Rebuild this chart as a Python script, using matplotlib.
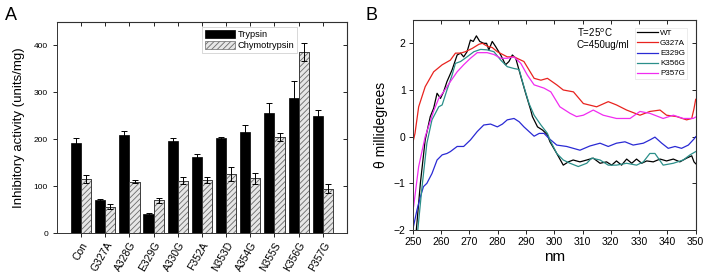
import matplotlib
matplotlib.use("Agg")
import matplotlib.pyplot as plt
import numpy as np

plt.rcParams['font.family'] = ['Liberation Sans', 'DejaVu Sans']

# ---------------- Panel A data ----------------
mutants = ["Con", "G327A", "A328G", "E329G", "A330G", "F352A", "N353D",
           "A354G", "N355S", "K356G", "P357G"]
trypsin = [192, 70, 210, 41, 196, 163, 202, 215, 255, 287, 250]
trypsin_err = [10, 3, 8, 2, 7, 5, 3, 15, 22, 36, 12]
chymo = [116, 57, 110, 70, 112, 113, 127, 117, 205, 386, 95]
chymo_err = [9, 6, 3, 6, 8, 7, 15, 12, 9, 19, 10]
yticksA = [0, 100, 200, 300, 400]

# ---------------- Panel B data ----------------
wt_x = [251.2, 252.7, 254.4, 256.2, 257.4, 258.6, 259.8, 260.9, 262.1, 263.9, 265.7, 266.9,
        268.0, 269.2, 270.4, 271.4, 272.5, 273.7, 275.1, 276.1, 276.9, 278.1, 279.3, 281.1,
        282.8, 284.0, 285.2, 286.4, 288.2, 289.9, 291.7, 292.3, 294.1, 295.9, 297.6, 298.5,
        300.9, 303.2, 305.0, 306.7, 309.1, 311.5, 313.8, 316.2, 318.5, 320.3, 322.0, 323.8,
        325.6, 327.4, 329.1, 330.9, 332.7, 335.0, 337.4, 339.7, 342.1, 344.4, 346.8, 348.6,
        349.4, 350.0]
wt_y = [-2.05, -1.0, -0.07, 0.43, 0.61, 0.93, 0.82, 0.96, 1.18, 1.43, 1.75, 1.79,
        1.71, 1.82, 2.07, 2.04, 2.16, 2.04, 2.0, 2.0, 1.86, 2.04, 1.93, 1.75,
        1.54, 1.61, 1.75, 1.68, 1.29, 0.93, 0.57, 0.43, 0.21, 0.14, 0.04, -0.11,
        -0.36, -0.61, -0.54, -0.5, -0.54, -0.5, -0.46, -0.57, -0.54, -0.61, -0.52, -0.61,
        -0.48, -0.57, -0.48, -0.57, -0.52, -0.54, -0.48, -0.52, -0.48, -0.54, -0.46, -0.41,
        -0.54, -0.58]

g327a_x = [250.0, 250.8, 252.1, 254.4, 257.4, 260.4, 263.3, 265.1, 266.9, 268.6, 271.0, 273.4,
           274.6, 276.3, 278.1, 279.9, 283.4, 285.8, 289.3, 292.9, 295.3, 297.6, 300.9, 303.2,
           306.8, 310.3, 315.0, 319.1, 322.0, 325.6, 330.3, 333.8, 337.4, 339.7, 343.3, 346.8,
           348.6, 349.4, 350.0]
g327a_y = [-0.14, 0.07, 0.64, 1.07, 1.39, 1.54, 1.64, 1.79, 1.79, 1.82, 1.89, 1.98,
           2.0, 1.94, 1.91, 1.82, 1.71, 1.71, 1.61, 1.25, 1.21, 1.25, 1.11, 1.0,
           0.96, 0.71, 0.64, 0.75, 0.68, 0.57, 0.46, 0.54, 0.57, 0.46, 0.43, 0.36,
           0.39, 0.6, 0.8]

e329g_x = [250.0, 251.5, 252.7, 253.8, 255.0, 256.8, 258.6, 260.4, 262.1, 263.3, 265.7, 268.0,
           270.4, 272.8, 275.1, 277.5, 279.9, 281.7, 283.4, 285.8, 287.6, 289.3, 291.1, 292.9,
           294.7, 296.4, 298.2, 300.9, 304.4, 309.1, 312.6, 316.2, 319.1, 322.0, 325.0, 327.9,
           331.5, 333.8, 335.6, 338.0, 340.3, 342.7, 345.0, 347.4, 349.4, 350.0]
e329g_y = [-2.0, -1.57, -1.29, -1.07, -1.0, -0.79, -0.5, -0.39, -0.36, -0.32, -0.21, -0.21,
           -0.07, 0.11, 0.25, 0.27, 0.21, 0.27, 0.36, 0.39, 0.32, 0.21, 0.11, 0.01,
           0.07, 0.07, -0.04, -0.18, -0.21, -0.29, -0.2, -0.14, -0.21, -0.14, -0.11, -0.18,
           -0.14, -0.07, -0.01, -0.14, -0.25, -0.21, -0.25, -0.18, -0.05, 0.0]

k356g_x = [251.7, 253.3, 255.0, 256.8, 259.2, 260.4, 262.1, 263.9, 265.1, 266.9, 269.2, 271.6,
           274.0, 276.3, 278.7, 281.1, 283.4, 285.8, 287.6, 289.3, 291.1, 292.9, 295.3, 297.6,
           298.5, 300.9, 303.2, 305.6, 308.5, 311.5, 313.2, 316.2, 319.1, 322.0, 325.6, 329.1,
           331.5, 333.8, 335.6, 338.5, 342.1, 345.6, 348.0, 350.0]
k356g_y = [-2.05, -1.07, -0.14, 0.36, 0.64, 0.68, 1.0, 1.32, 1.57, 1.61, 1.71, 1.82,
           1.87, 1.86, 1.82, 1.64, 1.5, 1.46, 1.44, 1.07, 0.71, 0.46, 0.25, 0.07,
           -0.07, -0.36, -0.5, -0.57, -0.64, -0.57, -0.46, -0.5, -0.61, -0.61, -0.57, -0.61,
           -0.54, -0.36, -0.36, -0.61, -0.57, -0.5, -0.39, -0.32]

p357g_x = [250.0, 250.3, 252.1, 254.4, 257.4, 259.2, 260.9, 263.3, 265.7, 268.0, 270.4, 272.8,
           276.3, 278.7, 281.1, 283.4, 285.8, 288.2, 290.5, 292.9, 296.4, 298.8, 302.0, 305.6,
           307.9, 310.3, 313.8, 317.3, 322.0, 326.8, 330.3, 333.8, 338.5, 342.1, 345.6, 349.1,
           350.0]
p357g_y = [-1.57, -1.5, -0.64, 0.0, 0.55, 0.82, 0.96, 1.18, 1.39, 1.54, 1.68, 1.8,
           1.8, 1.76, 1.68, 1.68, 1.71, 1.57, 1.32, 1.11, 1.04, 0.96, 0.64, 0.5,
           0.43, 0.46, 0.57, 0.46, 0.39, 0.39, 0.54, 0.5, 0.39, 0.46, 0.39, 0.39,
           0.42]

series = [("WT", wt_x, wt_y, "#000000"),
          ("G327A", g327a_x, g327a_y, "#e8231f"),
          ("E329G", e329g_x, e329g_y, "#2a2ad4"),
          ("K356G", k356g_x, k356g_y, "#2b8f8a"),
          ("P357G", p357g_x, p357g_y, "#f02cf0")]

fig = plt.figure(figsize=(7.06, 2.72), dpi=100)

# ---------------- Panel A ----------------
axA = fig.add_axes([0.0807, 0.1423, 0.4108, 0.7777])
x = np.arange(len(mutants))
w = 0.42
axA.bar(x - w / 2, trypsin, w, color="black", edgecolor="black", linewidth=0.5, label="Trypsin")
plt.rcParams['hatch.linewidth'] = 0.6
axA.bar(x + w / 2, chymo, w, color="#e6e6e6", edgecolor="#6a6a6a", hatch="//////",
        linewidth=0.5, label="Chymotrypsin")
axA.bar(x + w / 2, chymo, w, fill=False, edgecolor="#333333", linewidth=0.6)
axA.errorbar(x - w / 2, trypsin, yerr=trypsin_err, fmt="none", ecolor="black",
             elinewidth=0.7, capsize=2.5, capthick=0.7)
axA.errorbar(x + w / 2, chymo, yerr=chymo_err, fmt="none", ecolor="black",
             elinewidth=0.7, capsize=2.5, capthick=0.7)
axA.set_xlim(-1, 11)
axA.set_ylim(0, 450)
axA.set_yticks(yticksA)
axA.set_xticks(x)
axA.set_xticklabels(mutants, rotation=60, ha="right", rotation_mode="anchor", fontsize=7.5)
axA.tick_params(axis="y", labelsize=6, direction="out", length=3, width=0.6)
axA.tick_params(axis="x", direction="out", length=3, width=0.6, pad=2)
for s in axA.spines.values():
    s.set_linewidth(0.7)
    s.set_color("#333333")
axA.set_ylabel("Inhibitory activity (units/mg)", fontsize=9.5, labelpad=6)
topA = axA.secondary_xaxis("top")
topA.set_xticks(x)
topA.tick_params(direction="in", length=3, width=0.6, labeltop=False)
rightA = axA.secondary_yaxis("right")
rightA.set_yticks(yticksA)
rightA.tick_params(direction="in", length=3, width=0.6, labelright=False)
legA = axA.legend(loc="upper left", bbox_to_anchor=(0.5, 0.975), fontsize=6.7,
                  frameon=True, fancybox=False, edgecolor="#bbbbbb", borderpad=0.3,
                  handlelength=3.2, handleheight=0.9, handletextpad=0.3, labelspacing=0.25,
                  borderaxespad=0)
legA.get_frame().set_linewidth(0.5)
fig.text(0.007, 0.975, "A", fontsize=13, va="top", ha="left")

# ---------------- Panel B ----------------
axB = fig.add_axes([0.5846, 0.1544, 0.4008, 0.7721])
for name, xs, ys, c in series:
    axB.plot(xs, ys, color=c, lw=0.9, label=name)
axB.set_xlim(250, 350)
axB.set_ylim(-2, 2.5)
axB.set_xticks(np.arange(250, 351, 10))
axB.set_yticks([-2, -1, 0, 1, 2])
axB.tick_params(axis="both", labelsize=7.5, direction="out", length=3, width=0.6, pad=2)
for s in axB.spines.values():
    s.set_linewidth(0.7)
    s.set_color("#333333")
topB = axB.secondary_xaxis("top")
topB.set_xticks(np.arange(250, 351, 10))
topB.tick_params(direction="in", length=3, width=0.6, labeltop=False)
rightB = axB.secondary_yaxis("right")
rightB.set_yticks([-2, -1, 0, 1, 2])
rightB.tick_params(direction="in", length=3, width=0.6, labelright=False)
axB.set_xlabel("nm", fontsize=11, labelpad=2)
axB.set_ylabel("θ millidegrees", fontsize=10, labelpad=4)
axB.text(0.58, 0.938, "T=25$^{\\mathrm{o}}$C", transform=axB.transAxes, fontsize=7,
         va="center", ha="left")
axB.text(0.58, 0.881, "C=450ug/ml", transform=axB.transAxes, fontsize=7,
         va="center", ha="left")
legB = axB.legend(loc="upper right", bbox_to_anchor=(0.968, 0.962), fontsize=5.8,
                  frameon=True, fancybox=False, edgecolor="#dddddd", borderpad=0.2,
                  handlelength=2.6, handletextpad=0.3, labelspacing=0.3, borderaxespad=0)
legB.get_frame().set_linewidth(0.5)
fig.text(0.518, 0.975, "B", fontsize=13, va="top", ha="left")

fig.savefig("out.png", dpi=100)
